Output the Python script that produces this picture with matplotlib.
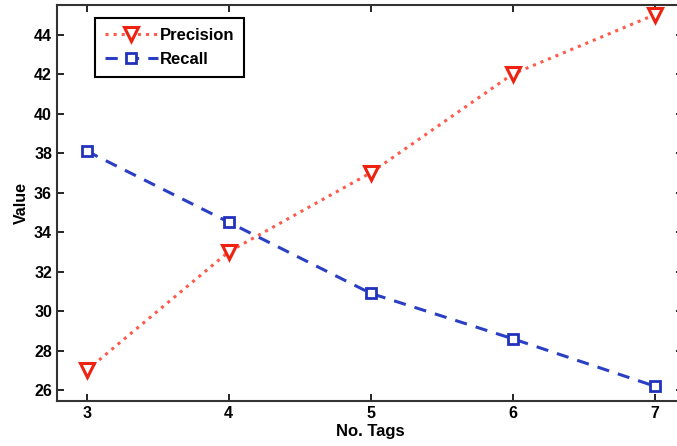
import matplotlib.pyplot as plt

plt.rcParams['font.family'] = ['Liberation Sans', 'DejaVu Sans']
plt.rcParams['font.weight'] = 'bold'

tags = [3, 4, 5, 6, 7]
precision = [27, 33, 37, 42, 45]
recall = [38.1, 34.5, 30.9, 28.6, 26.2]

fig = plt.figure(figsize=(6.77, 4.46), dpi=100)
ax = fig.add_axes([0.084, 0.101, 0.925, 0.888])

ax.plot(tags, precision, ':', color='#ff5a4a', lw=2.2, marker='v', ms=10,
        mfc='white', mec='#ee2211', mew=2.2, label='Precision')
ax.plot(tags, recall, '--', color='#2b3fc4', lw=2.2, dashes=(4, 3), marker='s', ms=6.5,
        mfc='white', mec='#2233bb', mew=2, label='Recall')

ax.set_xlim(2.79, 7.2)
ax.set_ylim(25.45, 45.5)
ax.set_xticks(tags)
ax.set_yticks(range(26, 45, 2))
ax.tick_params(direction='in', top=True, right=True, length=5, width=1.2,
               labelsize=11.5)
for s in ax.spines.values():
    s.set_linewidth(1.5)
    s.set_color('#333333')

ax.set_xlabel('No. Tags', fontsize=12, fontweight='bold', labelpad=2)
ax.set_ylabel('Value', fontsize=11.5, fontweight='bold')

leg = ax.legend(loc='upper left', bbox_to_anchor=(0.055, 0.975), fontsize=12,
                fancybox=False, edgecolor='black', framealpha=1,
                handlelength=3.2, borderpad=0.6, labelspacing=0.55, handletextpad=0.1,
                borderaxespad=0.2)
leg.get_frame().set_linewidth(1.5)

fig.savefig('out.png', dpi=100)
